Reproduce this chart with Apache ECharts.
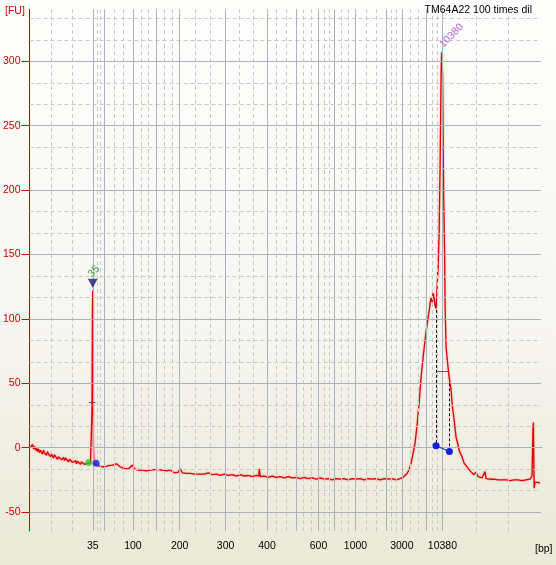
<!DOCTYPE html>
<html>
<head>
<meta charset="utf-8">
<script src="https://cdn.jsdelivr.net/npm/echarts@6/dist/echarts.min.js"></script>
<style>
html,body{margin:0;padding:0;}
#chart{width:556px;height:565px;}
</style>
</head>
<body>
<div id="chart"></div>
<script>
// ---- Data ----
const ladderBp   = [35, 50, 100, 150, 200, 300, 400, 500, 600, 700, 1000, 2000, 3000, 7000, 10380];
const ladderTime = [32.66, 35.06, 40.70, 45.44, 50.06, 59.26, 67.54, 73.34, 77.86, 81.06, 85.26, 91.46, 94.54, 99.46, 102.66];
const shownBp    = [35, 100, 200, 300, 400, 600, 1000, 3000, 10380];
const extraMinorTimes = [24.26, 28.46, 109.34, 115.94];
const yTicks = [-50, 0, 50, 100, 150, 200, 250, 300];

// trace segments: [migration time (s), FU]
const segLeft = [
 [20.2,0],[20.4,1],[20.6,2.5],[20.8,-1],[21.0,1],[21.2,-2],[21.4,0],[21.6,-3],[21.8,-1],[22.0,-4],
 [22.2,-2],[22.4,-1],[22.6,-5],[22.8,-2],[23.0,-4],[23.2,-3],[23.4,-6],[23.6,-3],[23.8,-5],[24.0,-4],
 [24.2,-7],[24.4,-5],[24.6,-6],[24.8,-8],[25.0,-5.5],[25.2,-7],[25.4,-6],[25.6,-9],[25.8,-7],[26.0,-8],
 [26.2,-7],[26.4,-9.5],[26.6,-8],[26.8,-7.5],[27.0,-10],[27.2,-8],[27.4,-9],[27.6,-8.5],[27.8,-11],[28.0,-9],
 [28.2,-10],[28.4,-9.5],[28.6,-11.5],[28.8,-10],[29.0,-11],[29.2,-10],[29.4,-12.5],[29.6,-10.5],[29.8,-11.5],[30.0,-11],
 [30.2,-13],[30.4,-11],[30.6,-12],[30.8,-11.5],[31.0,-13],[31.2,-12],[31.4,-13.5],[31.6,-12],[31.8,-12.5],[32.0,-13],
 [32.2,-12],[32.4,-13]
];
const markerSpike = [[32.52,30],[32.6,108],[32.66,122],[32.72,60],[32.8,0],[32.9,-12]];
const segMid = [
 [33.0,-12],[33.4,-13.5],[33.8,-12.5],[34.2,-14.5],[34.6,-13],[35.0,-15],[35.4,-13.5],[35.8,-14],[36.2,-15.5],[36.6,-13.5],
 [37.0,-15],[37.4,-12.5],[37.8,-11],[38.2,-15],[38.6,-14],[39.0,-16],[39.4,-14.5],[39.8,-16.5],[40.2,-15],[40.6,-13.5],
 [41.0,-16.5],[41.4,-15.5],[41.8,-17.5],[42.2,-16],[42.6,-17.5],[43.0,-16.5],[43.4,-18],[43.8,-16.5],[44.2,-17.5],[44.6,-18.5],
 [45.0,-17],[45.4,-18],[45.8,-17],[46.2,-18.5],[46.6,-17.5],[47.0,-18.5],[47.4,-18],[47.8,-19],[48.2,-17.5],[48.6,-18.5],
 [49.0,-19.5],[49.4,-18.5],[49.8,-19],[50.2,-16.5],[50.6,-19.5],[51.0,-18.5],[51.4,-20],[51.8,-19],[52.2,-20],[52.6,-19],
 [53.0,-20.5],[53.4,-19.5],[53.8,-20.5],[54.2,-20]
];
const segFlat = [
 [55.0,-20.5],[55.8,-19.5],[56.6,-21],[57.4,-20.5],[58.2,-21.5],[59.0,-20.5],[59.8,-21.5],[60.6,-21],[61.4,-22],[62.2,-21],
 [63.0,-22],[63.8,-21.5],[64.6,-22.5],[65.4,-21.5],[65.9,-22],[66.0,-16.5],[66.2,-22.5],[67.0,-22],[67.8,-23],[68.6,-22],
 [69.4,-23],[70.2,-22.5],[71.0,-23.5],[71.8,-22.5],[72.6,-23.5],[73.4,-23],[74.2,-24],[75.0,-23],[75.8,-24],[76.6,-23.5],
 [77.4,-24.5],[78.2,-23.5],[79.0,-24.5],[79.8,-24],[80.6,-25],[81.4,-24],[82.2,-24.5],[83.0,-24],[83.8,-25],[84.6,-24],
 [85.4,-24.5],[86.2,-24],[87.0,-25],[87.8,-24],[88.6,-24.5],[89.4,-24],[90.2,-25],[91.0,-24],[91.8,-24.5],[92.6,-24],
 [93.4,-25],[94.2,-24]
];
const segPeak = [
 [94.8,-23],[95.2,-22],[95.6,-20],[96.0,-17],[96.4,-12],[96.8,-4],[97.2,4],[97.6,18],[98.0,35],[98.4,55],
 [98.8,70],[99.2,84],[99.6,96],[100.0,106],[100.2,112],[100.4,117],[100.6,113],[100.8,120],[101.0,116],[101.2,110],
 [101.4,108],[101.6,125],[101.8,140],[102.0,165],[102.2,220],[102.4,290],[102.5,307],[102.7,290],[102.9,200],[103.1,150],
 [103.2,110],[103.4,78],[103.6,70],[103.8,62],[104.0,55],[104.2,50],[104.4,45],[104.6,35],[104.7,31],[104.8,28],
 [105.0,22],[105.2,15],[105.4,8],[105.6,5],[105.8,2],[106.0,-2]
];
const segTail = [
 [106.2,-4],[106.6,-7],[107.0,-12],[107.4,-14],[107.8,-13],[108.2,-18],[108.6,-17],[109.0,-21],[109.4,-19],[109.8,-22.5],
 [110.2,-22],[110.6,-23.5],[111.0,-22.5],[111.2,-18.5],[111.4,-24],[111.8,-23],[112.2,-24.5],[112.6,-23.5],[113.0,-24.5],[113.4,-24],
 [113.8,-25],[114.2,-24],[114.6,-25],[115.0,-24],[115.4,-25],[115.8,-24.5],[116.2,-25.5],[116.6,-24.5],[117.0,-25],[117.4,-24],
 [117.8,-25],[118.2,-24.5],[118.6,-25.5],[119.0,-24.5],[119.4,-25],[119.8,-24],[120.2,-24.5],[120.6,-22]
];
const endSpike = [[120.8,15],[120.88,19.6],[120.96,-10],[121.04,-31.5],[121.2,-27],[121.4,-28],[121.8,-27],[122.2,-27.5]];

// annotations (values in chart units)
const markerPeak = {time: 32.66, fu: 127.6, label: '35'};
const mainPeak = {time: 102.4, fu: 312, label: '10380'};
const regionDots = [[31.86, -11.6], [33.34, -12.1]];
const peakDots = [[101.4, 1.5], [104.06, -3]];
const dashedBounds = [[101.4, 107, 1.5], [104.06, 50, -3]];
const halfHeightMain = [101.54, 103.86, 59.6];
const halfHeightMarker = [31.86, 33.2, 35];

// ---- Build ----
const traceData = [].concat(segLeft, markerSpike, segMid, segFlat, segPeak, segTail, endSpike);

const majorX = ladderTime.slice();
const minorX = extraMinorTimes.slice();
for (let i = 0; i < ladderTime.length - 1; i++) {
  const a = ladderTime[i], b = ladderTime[i + 1];
  minorX.push(a + (b - a) / 3, a + 2 * (b - a) / 3);
}
const majorY = yTicks.slice();
const minorY = [];
for (let k = -2; k <= 20; k++) { if (k % 3 !== 0) minorY.push(k * 50 / 3); }

function bpLabel(v) {
  let best = -1, bd = 1e9;
  ladderTime.forEach((t, i) => { const d = Math.abs(t - v); if (d < bd) { bd = d; best = i; } });
  if (best < 0 || bd > 0.05) return '';
  const bp = ladderBp[best];
  return shownBp.indexOf(bp) >= 0 ? String(bp) : '';
}

const FONT = 'Liberation Sans';
const chart = echarts.init(document.getElementById('chart'), null, {renderer: 'canvas'});
const option = {
  animation: false,
  backgroundColor: new echarts.graphic.LinearGradient(0, 0, 0, 1, [
    {offset: 0, color: '#fefefd'},
    {offset: 0.6, color: '#f6f5f0'},
    {offset: 0.94, color: '#ecead9'},
    {offset: 1, color: '#ece9d8'}
  ]),
  title: [
    {text: '[FU]', left: 0, top: 1, textStyle: {color: '#cc0000', fontSize: 10.5, fontWeight: 'normal', fontFamily: FONT}},
    {text: '[bp]', left: 530, top: 539, textStyle: {color: '#000', fontSize: 10.5, fontWeight: 'normal', fontFamily: FONT}},
    {text: 'TM64A22 100 times dil', right: 19, top: 0, textStyle: {color: '#000', fontSize: 10.5, fontWeight: 'normal', fontFamily: FONT}}
  ],
  grid: {left: 29, right: 15, top: 9.3, bottom: 34, containLabel: false},
  xAxis: {
    type: 'value', min: 20, max: 122.4,
    axisLine: {show: true, lineStyle: {color: '#000', width: 1}},
    axisTick: {show: true, customValues: majorX, length: 6, lineStyle: {color: '#000'}},
    axisLabel: {show: true, customValues: majorX, formatter: bpLabel, color: '#000', fontSize: 10.5, fontFamily: FONT, margin: 10},
    splitLine: {show: false}
  },
  yAxis: {
    type: 'value', min: -64.7, max: 340.4,
    axisLine: {show: true, lineStyle: {color: '#cc0000', width: 1}},
    axisTick: {show: true, customValues: majorY, length: 8, lineStyle: {color: '#cc0000'}},
    axisLabel: {show: true, customValues: majorY, color: '#cc0000', fontSize: 10.5, fontFamily: FONT, margin: 9},
    splitLine: {show: false}
  },
  series: [
    {
      type: 'line', data: [], silent: true, z: 1,
      markLine: {
        silent: true, symbol: 'none', label: {show: false}, animation: false,
        data: [
          ...minorX.map(v => ({xAxis: v, lineStyle: {color: '#c9c9c9', type: [4, 3], width: 1}})),
          ...minorY.map(v => ({yAxis: v, lineStyle: {color: '#c9c9c9', type: [4, 3], width: 1}})),
          ...majorX.map(v => ({xAxis: v, lineStyle: {color: '#aab2bf', type: 'solid', width: 1}})),
          ...majorY.map(v => ({yAxis: v, lineStyle: {color: '#aab2bf', type: 'solid', width: 1}}))
        ]
      }
    },
    {
      type: 'line', data: traceData, showSymbol: false, z: 3,
      lineStyle: {color: '#e00000', width: 1.3, shadowBlur: 2, shadowColor: 'rgba(255,40,40,0.45)'},
      markLine: {
        silent: true, symbol: 'none', label: {show: false}, animation: false,
        data: [
          ...dashedBounds.map(d => [{coord: [d[0], d[1]], lineStyle: {color: '#000', type: [3, 2], width: 1}}, {coord: [d[0], d[2]]}]),
          [{coord: [halfHeightMain[0], halfHeightMain[2]], lineStyle: {color: '#2a7a50', type: 'solid', width: 1}}, {coord: [halfHeightMain[1], halfHeightMain[2]]}],
          [{coord: [halfHeightMarker[0], halfHeightMarker[2]], lineStyle: {color: '#555', type: 'solid', width: 1}}, {coord: [halfHeightMarker[1], halfHeightMarker[2]]}]
        ]
      }
    },
    {
      type: 'line', data: peakDots, z: 5, symbol: 'circle', symbolSize: 7, showSymbol: true,
      lineStyle: {color: '#1530d0', width: 1.2}, itemStyle: {color: '#1020e0'}
    },
    {
      type: 'scatter', z: 5, symbol: 'circle', symbolSize: 7,
      data: [
        {value: regionDots[0], itemStyle: {color: '#22d022'}},
        {value: regionDots[1], itemStyle: {color: '#1020e0'}}
      ]
    },
    {
      type: 'scatter', z: 6, symbol: 'triangle', symbolRotate: 180, symbolSize: [10, 9],
      itemStyle: {color: '#1c1c70'},
      data: [[markerPeak.time, markerPeak.fu]]
    },
    {
      type: 'scatter', z: 6, symbolSize: 0,
      data: [
        {value: [markerPeak.time - 0.6, markerPeak.fu + 6], name: markerPeak.label,
         label: {show: true, formatter: markerPeak.label, position: 'inside', align: 'left', verticalAlign: 'middle', rotate: 45, color: '#118811', fontSize: 10.5, fontFamily: FONT}},
        {value: [mainPeak.time, mainPeak.fu], name: mainPeak.label,
         label: {show: true, formatter: mainPeak.label, position: 'inside', align: 'left', verticalAlign: 'middle', rotate: 45, color: '#9a3ad0', fontSize: 10.5, fontFamily: FONT}}
      ]
    }
  ]
};
chart.setOption(option);
</script>
</body>
</html>
